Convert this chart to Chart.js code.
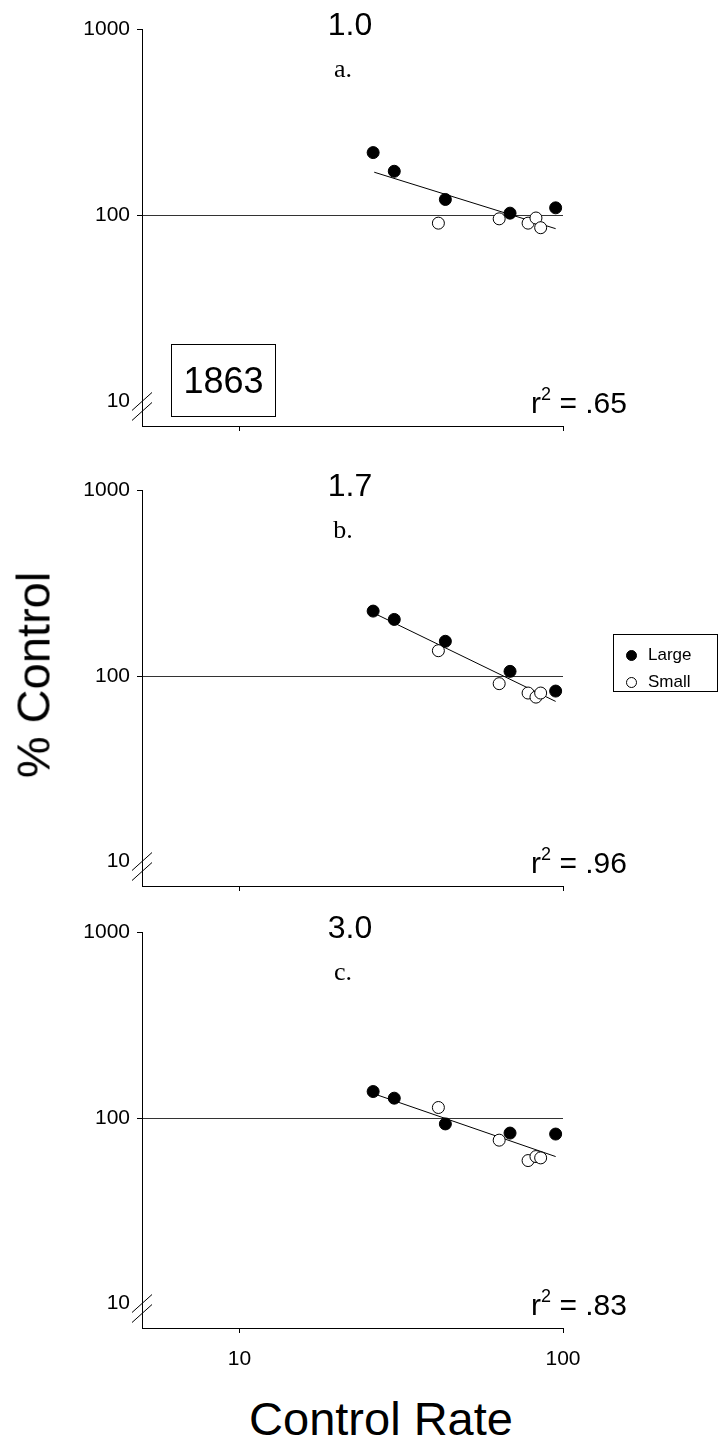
<!DOCTYPE html>
<html>
<head>
<meta charset="utf-8">
<script src="https://cdn.jsdelivr.net/npm/chart.js@4.4.0/dist/chart.umd.min.js"></script>
<style>
body { margin:0; background:#fff; width:719px; height:1446px; position:relative; overflow:hidden; font-family:"Liberation Sans", Arial, sans-serif; }
canvas { position:absolute; left:0; }
.txt { position:absolute; white-space:nowrap; color:#000; line-height:1; }
.mid { transform:translate(-50%,-50%); }
.sup { font-size:0.6em; position:relative; top:-0.75em; }
#box1863 { position:absolute; border:1px solid #000; box-sizing:border-box; display:flex; align-items:center; justify-content:center; font-size:36px; }
#legend { position:absolute; border:1px solid #000; box-sizing:border-box; font-size:17px; }
#legend div { position:absolute; left:12px; display:flex; align-items:center; }
#legend span.dot { display:inline-block; width:11px; height:11px; border-radius:50%; border:1px solid #000; box-sizing:border-box; margin-right:11px; }
</style>
</head>
<body>
<script>
// valores (tasa control vs % control)
const xTicks = [10, 100];
const yTicks = [10, 100, 1000];
const doses = ['1.0', '1.7', '3.0'];
const letters = ['a.', 'b.', 'c.'];
const r2 = ['.65', '.96', '.83'];

const largeRate = [25.9, 30.1, 43.3, 68.6, 94.9];
const smallRate = [41.2, 63.5, 78.0, 82.5, 85.3];
const fitRate = [26.1, 94.9];

const largeA = [218, 173, 122, 103, 110];
const smallA = [91, 96, 91, 97, 86];
const fitA = [171, 85];

const largeB = [224, 202, 154, 106, 83];
const smallB = [137, 91, 81, 77, 81];
const fitB = [218, 73];

const largeC = [139, 128, 93, 83, 82];
const smallC = [114, 76, 59, 62, 61];
const fitC = [135, 62];

// posicion de cada panel (arriba = 1000, abajo = eje x)
const panelTop = [22, 483, 925];
const panelBottom = [426, 886, 1328];

const FONT = '"Liberation Sans", Arial, sans-serif';

// marcas de corte "//" en el eje y, a la altura del 10
const cortePlugin = {
    id: 'corte',
    afterDraw(chart) {
        const ctx = chart.ctx;
        const x = chart.chartArea.left;
        const y = chart.scales.y.getPixelForValue(10);
        ctx.save();
        ctx.strokeStyle = '#000';
        ctx.lineWidth = 1;
        [0, 10].forEach(d => {
            ctx.beginPath();
            ctx.moveTo(x - 10, y + d + 9);
            ctx.lineTo(x + 10, y + d - 9);
            ctx.stroke();
        });
        ctx.restore();
    }
};

function pares(xs, ys) {
    return xs.map((x, i) => ({x: x, y: ys[i]}));
}

function crearPanel(i, largeY, smallY, fitY, mostrarX) {
    const padTop = 12, ejeX = 60;
    const h = panelBottom[i] - panelTop[i] + padTop + ejeX;
    const canvas = document.createElement('canvas');
    canvas.width = 719;
    canvas.height = h;
    canvas.style.top = (panelTop[i] - padTop) + 'px';
    document.body.appendChild(canvas);

    new Chart(canvas.getContext('2d'), {
        type: 'scatter',
        data: {
            datasets: [{
                label: 'Large',
                data: pares(largeRate, largeY),
                pointStyle: 'circle',
                pointRadius: 6,
                backgroundColor: '#000',
                borderColor: '#000',
                borderWidth: 1,
                order: 1
            }, {
                label: 'Small',
                data: pares(smallRate, smallY),
                pointStyle: 'circle',
                pointRadius: 6,
                backgroundColor: '#fff',
                borderColor: '#000',
                borderWidth: 1,
                order: 2
            }, {
                label: 'fit',
                data: pares(fitRate, fitY),
                showLine: true,
                pointRadius: 0,
                borderColor: '#000',
                borderWidth: 1,
                order: 3
            }]
        },
        options: {
            responsive: false,
            animation: false,
            devicePixelRatio: 1,
            layout: { padding: { left: 0, right: 156, top: padTop, bottom: 0 } },
            plugins: { legend: { display: false }, tooltip: { enabled: false } },
            scales: {
                x: {
                    type: 'logarithmic',
                    min: 5,
                    max: 100,
                    afterBuildTicks: s => { s.ticks = xTicks.map(v => ({value: v})); },
                    afterFit: s => { s.height = ejeX; },
                    border: { display: true, color: '#000', width: 1 },
                    grid: { drawOnChartArea: false, drawTicks: true, tickLength: 5, tickColor: '#000' },
                    ticks: {
                        display: mostrarX,
                        autoSkip: false,
                        maxRotation: 0,
                        padding: 14,
                        color: '#000',
                        font: { family: FONT, size: 21 },
                        callback: v => String(v)
                    }
                },
                y: {
                    type: 'logarithmic',
                    min: 7.38,
                    max: 1000,
                    afterBuildTicks: s => { s.ticks = yTicks.map(v => ({value: v})); },
                    afterFit: s => { s.width = 142; },
                    border: { display: true, color: '#000', width: 1 },
                    grid: {
                        drawOnChartArea: true,
                        tickLength: 5,
                        color: c => (c.tick && c.tick.value === 100) ? '#333' : 'rgba(0,0,0,0)',
                        tickColor: c => (c.tick && c.tick.value !== 10) ? '#000' : 'rgba(0,0,0,0)'
                    },
                    ticks: {
                        autoSkip: false,
                        padding: 7,
                        color: '#000',
                        font: { family: FONT, size: 21 },
                        callback: v => String(v)
                    }
                }
            }
        },
        plugins: [cortePlugin]
    });

    // textos del panel
    agregarTexto(doses[i], 350, panelTop[i] + 2, 'font-size:32px;', true);
    agregarTexto(letters[i], 343, panelTop[i] + 47, 'font-size:26px;font-family:"Liberation Serif","Times New Roman",serif;', true);
    const r = document.createElement('div');
    r.className = 'txt';
    r.style.cssText = 'font-size:30px;left:627px;top:' + (panelBottom[i] - 8) + 'px;transform:translate(-100%,-100%);';
    r.innerHTML = 'r<span class="sup">2</span> = ' + r2[i];
    document.body.appendChild(r);
}

function agregarTexto(t, x, y, estilo, centrado) {
    const d = document.createElement('div');
    d.className = 'txt' + (centrado ? ' mid' : '');
    d.style.cssText = 'left:' + x + 'px;top:' + y + 'px;' + estilo;
    d.textContent = t;
    document.body.appendChild(d);
}

crearPanel(0, largeA, smallA, fitA, false);
crearPanel(1, largeB, smallB, fitB, false);
crearPanel(2, largeC, smallC, fitC, true);

// titulos de ejes
agregarTexto('% Control', 33, 675, 'font-size:47px;transform:translate(-50%,-50%) rotate(-90deg);', false);
agregarTexto('Control Rate', 381, 1418, 'font-size:47px;', true);

// recuadro "1863"
const caja = document.createElement('div');
caja.id = 'box1863';
caja.style.cssText = 'left:171px;top:344px;width:105px;height:73px;';
caja.textContent = '1863';
document.body.appendChild(caja);

// leyenda
const ley = document.createElement('div');
ley.id = 'legend';
ley.style.cssText = 'left:613px;top:634px;width:105px;height:58px;';
ley.innerHTML = '<div style="top:10px"><span class="dot" style="background:#000"></span>Large</div>' +
                '<div style="top:37px"><span class="dot" style="background:#fff"></span>Small</div>';
document.body.appendChild(ley);
</script>
</body>
</html>
